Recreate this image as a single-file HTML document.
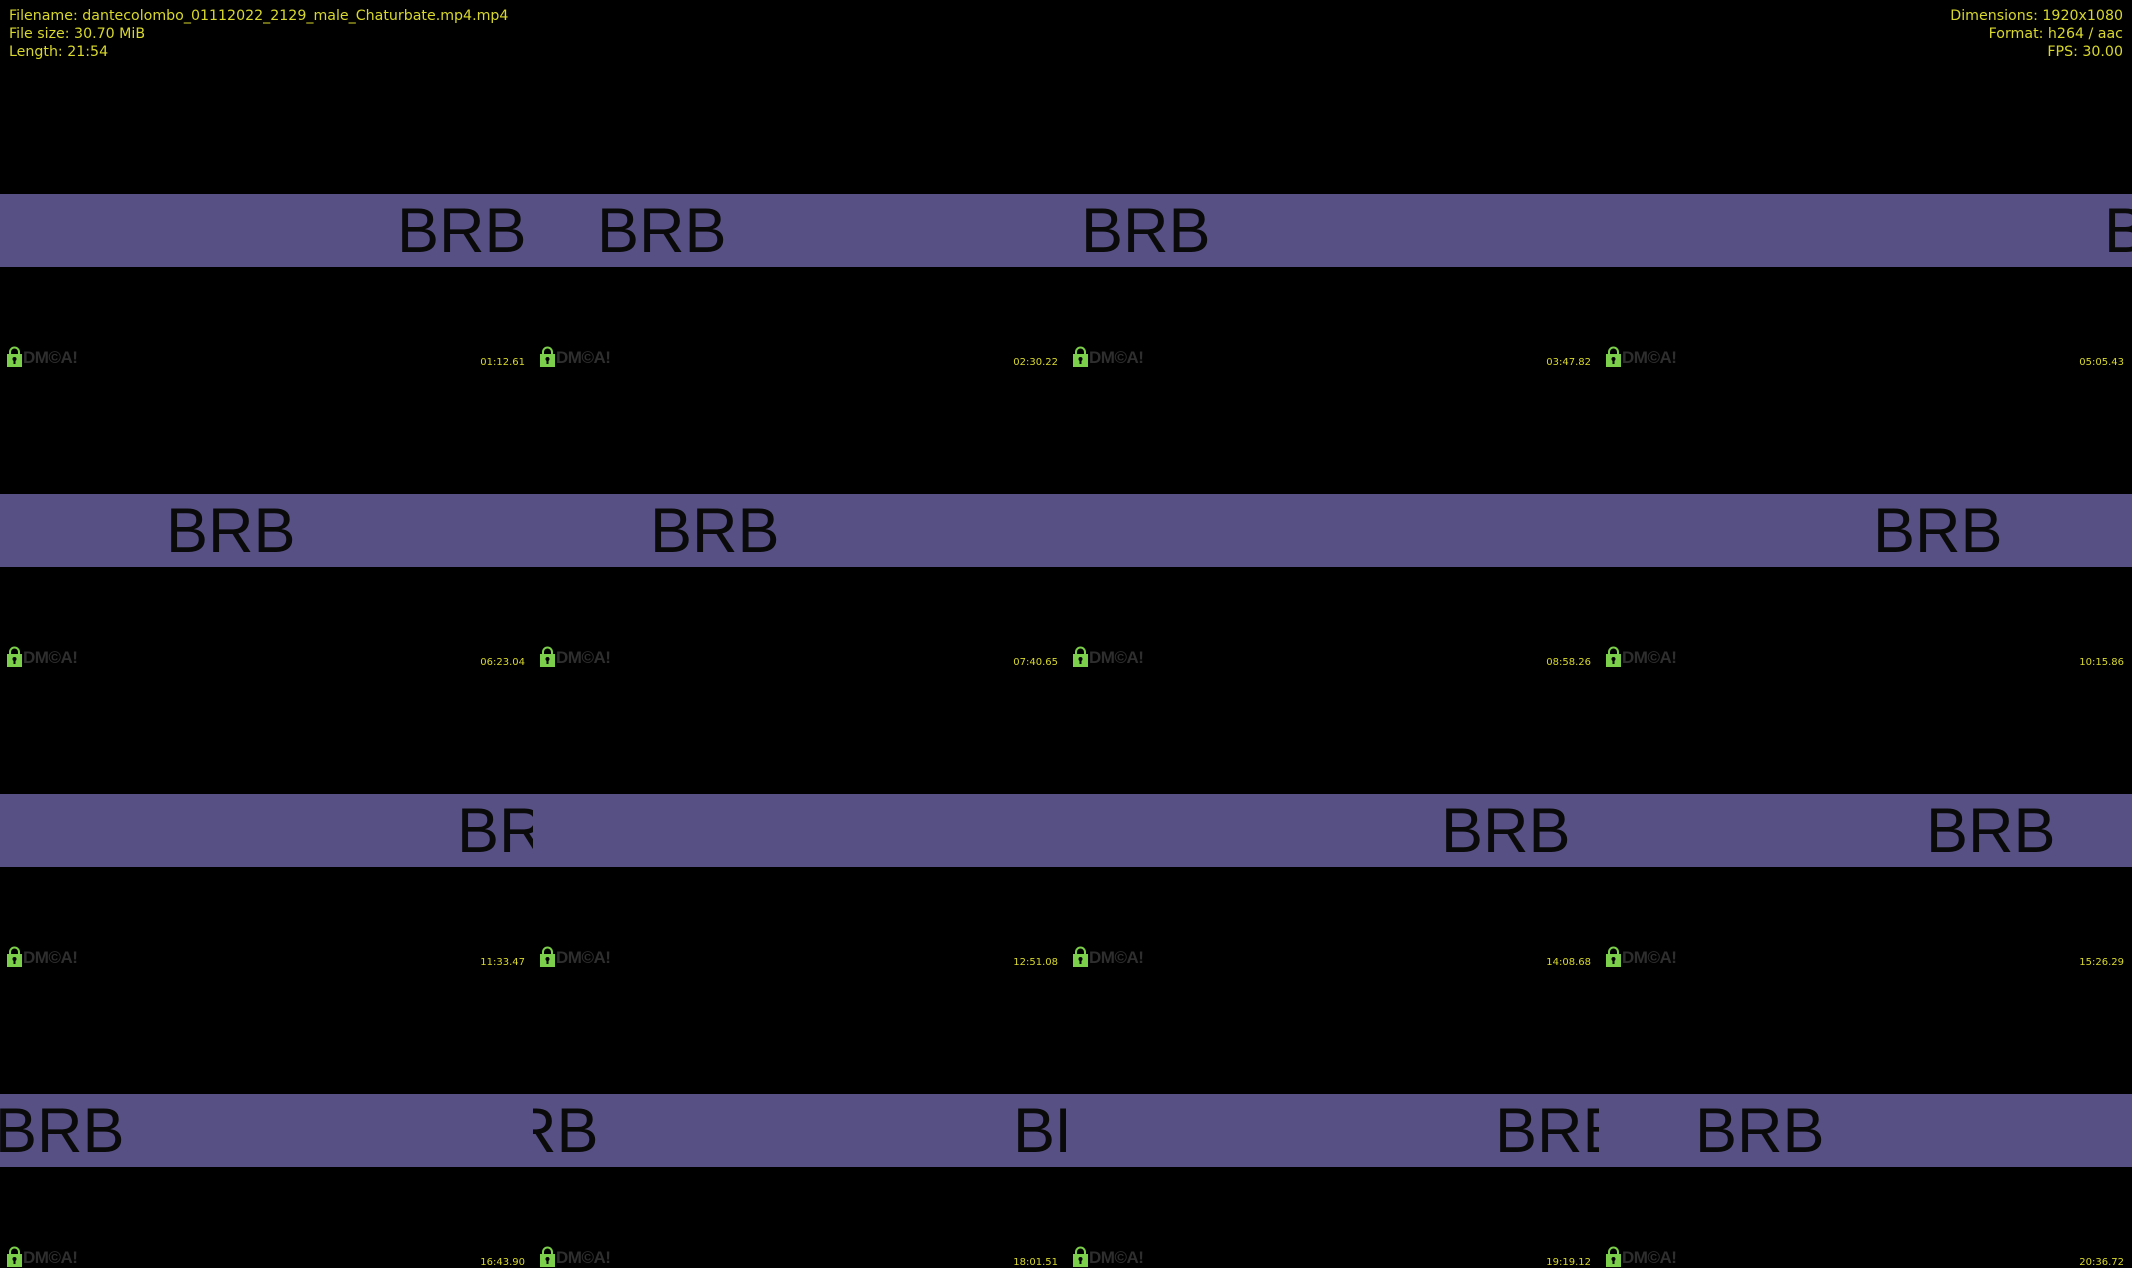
<!DOCTYPE html>
<html><head><meta charset="utf-8"><style>
body{margin:0;width:2132px;height:1268px;background:#000;position:relative;overflow:hidden;font-family:"DejaVu Sans","Liberation Sans",sans-serif}
.hdr{position:absolute;color:#d8d82c;font-size:14.2px;line-height:18px;top:7px}
.tile{position:absolute;width:533px;height:300px;overflow:hidden}
.band{position:absolute;left:0;right:0;top:126px;height:73px;background:#565084}
.brb{position:absolute;top:118px;font-family:"Liberation Sans",Arial,sans-serif;font-size:63px;color:#0a0a0a;line-height:90px}
.lock{position:absolute;left:7px;top:278px;width:15px;height:21px}
.dm{position:absolute;left:23px;top:280px;font-family:"Liberation Sans",sans-serif;font-weight:bold;font-size:17px;color:#2e2e2e;letter-spacing:-0.5px}
.ts{position:absolute;right:8px;top:289px;font-size:10px;color:#d8d82c}
</style></head><body>
<div class="hdr" style="left:9px">Filename: dantecolombo_01112022_2129_male_Chaturbate.mp4.mp4<br>File size: 30.70 MiB<br>Length: 21:54</div>
<div class="hdr" style="right:9px;text-align:right">Dimensions: 1920x1080<br>Format: h264 / aac<br>FPS: 30.00</div>
<div id="g"></div>
<script>
var ts=["01:12.61","02:30.22","03:47.82","05:05.43","06:23.04","07:40.65","08:58.26","10:15.86","11:33.47","12:51.08","14:08.68","15:26.29","16:43.90","18:01.51","19:19.12","20:36.72"];
var brb=[[397],[64],[15],[505],[166],[117],[],[274],[457],[],[375],[327],[-5],[-64,480],[429],[96]];
var h="";
for(var i=0;i<16;i++){var c=i%4,r=Math.floor(i/4);
h+='<div class="tile" style="left:'+(c*533)+'px;top:'+(68+r*300)+'px"><div class="band"></div>';
brb[i].forEach(function(x){h+='<div class="brb" style="left:'+x+'px">BRB</div>';});
h+='<svg class="lock" viewBox="0 0 15 21"><path d="M3 9V6a4.5 4.5 0 0 1 9 0v3" fill="none" stroke="#7ccf4a" stroke-width="2"/><rect x="0" y="8" width="15" height="13" fill="#7ccf4a"/><circle cx="7.5" cy="13" r="2" fill="#000"/><rect x="6.5" y="13" width="2" height="5" fill="#000"/></svg><div class="dm">DM©A!</div><div class="ts">'+ts[i]+'</div></div>';}
document.getElementById("g").innerHTML=h;
</script>
</body></html>
